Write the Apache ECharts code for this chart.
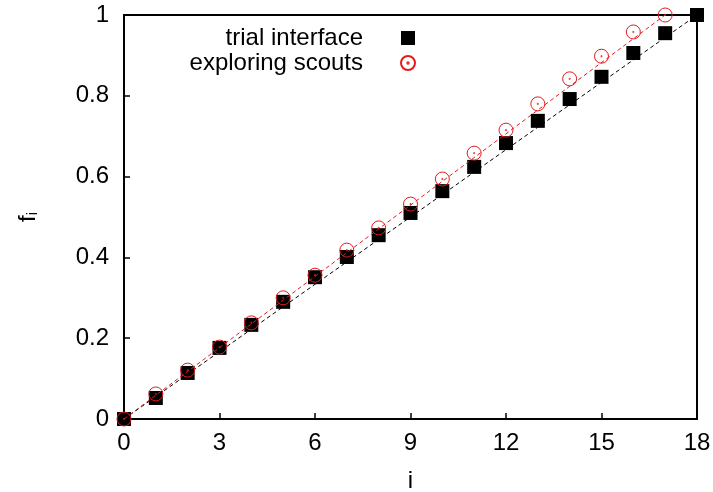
<!DOCTYPE html>
<html>
<head>
<meta charset="utf-8">
<script src="https://cdn.jsdelivr.net/npm/echarts@6/dist/echarts.min.js"></script>
<style>
  html, body { margin: 0; padding: 0; background: #fff; }
  #chart { width: 713px; height: 492px; }
</style>
</head>
<body>
<div id="chart"></div>
<script>
// position index i
var indexTrial = [0, 1, 2, 3, 4, 5, 6, 7, 8, 9, 10, 11, 12, 13, 14, 15, 16, 17, 18];
var indexScouts = [0, 1, 2, 3, 4, 5, 6, 7, 8, 9, 10, 11, 12, 13, 14, 15, 16, 17];

// cumulative fraction f_i
var trialValues = [0, 0.052, 0.114, 0.176, 0.233, 0.290, 0.351, 0.401, 0.455, 0.510,
                   0.564, 0.624, 0.683, 0.738, 0.792, 0.847, 0.906, 0.955, 1.0];
var scoutValues = [0, 0.062, 0.121, 0.178, 0.238, 0.300, 0.356, 0.418, 0.473, 0.532,
                   0.594, 0.658, 0.715, 0.780, 0.842, 0.898, 0.958, 1.0];

// straight reference lines f = i / n
var trialLineX = [0, 18];
var trialLineY = [0, 1];
var scoutLineX = [0, 17];
var scoutLineY = [0, 1];

var seriesNames = ['trial interface', 'exploring scouts'];

function pairs(xs, ys) {
  return xs.map(function (x, k) { return [x, ys[k]]; });
}

var FONT = "'Liberation Sans', Arial, Helvetica, sans-serif";
var RED = '#e41a1c';
// open circle with a centre dot
var circleDot = 'path://M0,-10A10,10,0,1,1,0,10A10,10,0,1,1,0,-10Z M0,-0.9A0.9,0.9,0,1,1,0,0.9A0.9,0.9,0,1,1,0,-0.9Z';

var chart = echarts.init(document.getElementById('chart'), null, { renderer: 'canvas' });
chart.setOption({
  backgroundColor: '#ffffff',
  animation: false,
  grid: {
    left: 124, right: 16, top: 15, bottom: 73,
    containLabel: false,
    outerBoundsMode: 'none',
    show: true, borderColor: '#000', borderWidth: 2, backgroundColor: 'transparent'
  },
  legend: {
    orient: 'vertical',
    right: 292,
    top: 21,
    align: 'right',
    itemWidth: 14,
    itemHeight: 14,
    itemGap: 1,
    selectedMode: false,
    data: seriesNames,
    textStyle: {
      fontFamily: FONT, fontSize: 24, color: '#000',
      padding: [0, 33, 0, 0], lineHeight: 23
    }
  },
  xAxis: {
    type: 'value', min: 0, max: 18, interval: 3,
    name: 'i', nameLocation: 'middle', nameGap: 50,
    nameTextStyle: { fontFamily: FONT, fontSize: 24, color: '#000' },
    axisLine: { show: true, onZero: false, lineStyle: { color: '#000', width: 2 } },
    axisTick: { show: true, inside: true, length: 6, lineStyle: { color: '#000', width: 1.5 } },
    axisLabel: { fontFamily: FONT, fontSize: 24, color: '#000', margin: 12 },
    splitLine: { show: false }
  },
  yAxis: {
    type: 'value', min: 0, max: 1, interval: 0.2,
    name: 'f{sub|i}', nameLocation: 'middle', nameGap: 84, nameRotate: 90,
    nameTextStyle: {
      fontFamily: FONT, fontSize: 24, color: '#000',
      rich: { sub: { fontFamily: FONT, fontSize: 15, color: '#000', verticalAlign: 'bottom', padding: [8, 0, 0, 0] } }
    },
    axisLine: { show: true, onZero: false, lineStyle: { color: '#000', width: 2 } },
    axisTick: { show: true, inside: true, length: 6, lineStyle: { color: '#000', width: 1.5 } },
    axisLabel: { fontFamily: FONT, fontSize: 24, color: '#000', margin: 15 },
    splitLine: { show: false }
  },
  series: [
    {
      name: seriesNames[0],
      type: 'scatter',
      symbol: 'rect',
      symbolSize: 14,
      itemStyle: { color: '#000', opacity: 1 },
      data: pairs(indexTrial, trialValues),
      z: 2
    },
    {
      type: 'line',
      data: pairs(trialLineX, trialLineY),
      showSymbol: false,
      symbol: 'none',
      lineStyle: { color: '#000', width: 1, type: [4, 3] },
      z: 3
    },
    {
      type: 'line',
      data: pairs(scoutLineX, scoutLineY),
      showSymbol: false,
      symbol: 'none',
      lineStyle: { color: RED, width: 1, type: [4, 3] },
      z: 4
    },
    {
      name: seriesNames[1],
      type: 'scatter',
      symbol: circleDot,
      symbolSize: 14,
      itemStyle: { color: 'rgba(0,0,0,0)', borderColor: RED, borderWidth: 1, opacity: 1 },
      data: pairs(indexScouts, scoutValues),
      z: 5
    }
  ]
});
</script>
</body>
</html>
